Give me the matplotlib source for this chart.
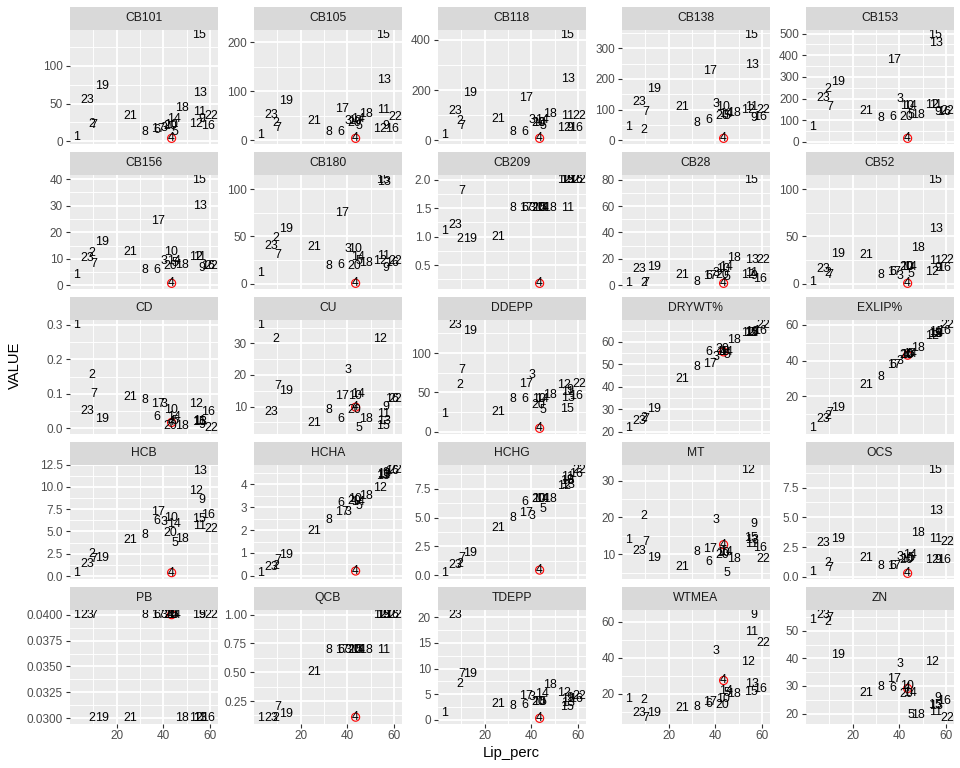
import matplotlib
matplotlib.use("Agg")
import matplotlib.pyplot as plt
from matplotlib.patches import Rectangle
import numpy as np

plt.rcParams['font.family'] = ['Liberation Sans', 'DejaVu Sans']

# ---------------- data ----------------
sites = [str(i) for i in range(1, 24)]
lip_perc = [2.9, 9.3, 40.3, 43.6, 45.0, 37.4, 10.4, 32.1, 56.4, 43.3, 55.7, 54.0,
            55.7, 44.6, 55.4, 59.1, 37.9, 47.9, 13.9, 42.9, 26.1, 60.4, 7.6]
highlight_site = "4"

variables = ["CB101", "CB105", "CB118", "CB138", "CB153",
             "CB156", "CB180", "CB209", "CB28", "CB52",
             "CD", "CU", "DDEPP", "DRYWT%", "EXLIP%",
             "HCB", "HCHA", "HCHG", "MT", "OCS",
             "PB", "QCB", "TDEPP", "WTMEA", "ZN"]

cb101 = [6, 23, 18, 4, 12, 15, 21, 12, 30, 22, 39, 23, 64, 29, 141, 20, 16, 44, 73, 20, 33, 34, 55]
cb105 = [10, 35, 39, 4, 30, 16, 24, 16, 29, 39, 61, 22, 122, 43, 215, 22, 63, 53, 80, 35, 39, 47, 51]
cb118 = [20, 78, 82, 8, 57, 33, 57, 33, 49, 69, 98, 49, 245, 82, 420, 49, 167, 106, 188, 69, 86, 98, 118]
cb138 = [43, 33, 119, 7, 80, 67, 92, 56, 72, 108, 108, 100, 245, 86, 344, 75, 225, 88, 168, 78, 108, 100, 125]
cb153 = [70, 245, 198, 16, 124, 116, 159, 109, 136, 164, 170, 170, 458, 164, 495, 136, 380, 124, 276, 116, 144, 144, 203]
cb156 = [3.8, 12.1, 9.1, 0.8, 8.3, 6.0, 8.0, 6.0, 6.4, 12.5, 10.6, 10.6, 30.0, 9.1, 39.8, 7.2, 24.2, 7.6, 16.3, 7.2, 12.5, 7.2, 10.2]
cb180 = [11, 48, 37, 0.5, 24, 20, 30, 19, 17, 37, 29, 24, 108, 28, 110, 22, 75, 22, 58, 19, 39, 24, 40]
cb209 = [1.1, 0.95, 1.5, 0.18, 1.5, 1.5, 1.8, 1.5, 2.0, 1.5, 1.5, 2.0, 2.0, 1.5, 2.0, 2.0, 1.5, 1.5, 0.95, 1.5, 1.0, 2.0, 1.2]
cb28 = [1.5, 2.0, 9.0, 1.5, 6.0, 6.9, 2.0, 2.3, 6.9, 12.0, 9.0, 7.6, 19.0, 13.7, 80.0, 4.6, 6.9, 21.0, 14.0, 7.6, 7.6, 19.0, 12.0]
cb52 = [2, 11, 8.5, 0.5, 10, 12.5, 9, 9, 17, 18, 24.5, 12.5, 58, 18, 110, 17, 12.5, 38, 31, 18, 30, 25.5, 16]
cd = [0.30, 0.154, 0.069, 0.017, 0.020, 0.034, 0.100, 0.083, 0.011, 0.054, 0.020, 0.069, 0.018,
      0.034, 0.017, 0.046, 0.069, 0.006, 0.026, 0.006, 0.091, 0.000, 0.051]
cu = [35.9, 31.3, 21.7, 9.8, 3.1, 6.0, 16.6, 8.8, 9.8, 13.2, 7.6, 31.3, 5.5, 14.0, 3.8, 12.4, 13.2, 6.0, 15.0, 9.0, 4.9, 12.4, 8.2]
ddepp = [22, 60, 72, 4.4, 28, 42, 78, 42, 53, 42, 50, 60, 42.6, 42, 29, 45, 61, 46.5, 128, 33.5, 25, 61, 136]
drywt = [21.5, 26.3, 53.3, 55.5, 54.0, 55.5, 25.5, 48.8, 63.8, 55.5, 64.0, 64.0, 64.5, 55.5, 64.0, 65.0, 50.3, 61.0, 29.9, 57.0, 43.6, 67.6, 24.8]
exlip = [2.2, 8.9, 39.8, 43.0, 43.5, 37.5, 10.6, 31.1, 55.0, 43.2, 56.0, 53.8, 55.0, 43.8, 55.0, 56.3, 37.3, 47.0, 13.4, 43.2, 26.1, 60.0, 7.3]
hcb = [0.3, 2.5, 6.1, 0.38, 3.7, 6.2, 1.9, 4.6, 8.5, 6.5, 5.6, 9.5, 11.8, 5.8, 6.4, 6.85, 7.2, 4.2, 2.0, 4.8, 4.0, 5.3, 1.4]
hcha = [0.11, 0.44, 2.78, 0.21, 3.05, 3.19, 0.69, 2.46, 4.5, 3.36, 4.4, 3.84, 4.45, 3.22, 4.38, 4.57, 2.78, 3.47, 0.93, 3.26, 1.97, 4.64, 0.40]
hchg = [0.15, 0.93, 5.14, 0.43, 5.77, 6.35, 1.5, 4.97, 8.3, 6.6, 8.5, 7.74, 7.8, 6.6, 8.2, 8.8, 5.42, 6.6, 1.94, 6.6, 4.1, 9.16, 0.85]
mt = [14.0, 20.3, 19.4, 12.6, 4.8, 7.8, 13.4, 10.5, 18.3, 10.2, 12.7, 33.0, 13.8, 10.6, 14.5, 11.7, 11.3, 8.8, 9.1, 9.7, 6.6, 8.8, 10.9]
ocs = [0.44, 1.2, 1.7, 0.3, 1.6, 0.93, 0.73, 0.93, 1.45, 1.5, 3.2, 1.45, 5.55, 1.8, 9.0, 1.45, 0.93, 3.65, 3.15, 1.45, 1.6, 2.9, 2.83]
pb = [0.04, 0.03, 0.04, 0.04, 0.04, 0.04, 0.04, 0.04, 0.04, 0.04, 0.03, 0.03, 0.03, 0.04, 0.04, 0.03, 0.04, 0.03, 0.03, 0.04, 0.03, 0.04, 0.04]
qcb = [0.1, 0.1, 0.69, 0.11, 0.69, 0.69, 0.2, 0.69, 1.0, 0.69, 0.69, 1.0, 1.0, 0.69, 1.0, 1.0, 0.69, 0.69, 0.14, 0.69, 0.5, 1.0, 0.1]
tdepp = [1.4, 6.9, 4.4, 0.3, 3.5, 2.9, 8.9, 2.7, 4.2, 3.5, 4.0, 5.2, 3.3, 5.0, 2.5, 4.1, 4.7, 6.7, 8.9, 3.5, 3.1, 4.7, 20.5]
wtmea = [17.1, 16.3, 43.8, 27.4, 20.5, 14.4, 6.4, 12.9, 63.9, 17.1, 54.5, 37.6, 25.5, 21.5, 20.8, 22.7, 15.2, 20.0, 9.6, 13.9, 12.0, 48.1, 9.6]
zn = [53.7, 53.1, 37.9, 29.1, 19.4, 29.1, 54.7, 29.5, 25.5, 29.9, 20.7, 38.8, 22.9, 27.6, 23.2, 24.4, 32.7, 19.4, 41.2, 27.2, 27.6, 18.3, 55.8]

values = [cb101, cb105, cb118, cb138, cb153, cb156, cb180, cb209, cb28, cb52,
          cd, cu, ddepp, drywt, exlip, hcb, hcha, hchg, mt, ocs, pb, qcb, tdepp, wtmea, zn]

y_breaks = [[0, 50, 100], [0, 100, 200], [0, 200, 400], [0, 100, 200, 300], [0, 100, 200, 300, 400, 500],
            [0, 10, 20, 30, 40], [0, 50, 100], [0.5, 1.0, 1.5, 2.0], [0, 20, 40, 60, 80], [0, 50, 100],
            [0.0, 0.1, 0.2, 0.3], [10, 20, 30], [0, 50, 100], [20, 30, 40, 50, 60], [20, 40, 60],
            [0, 2.5, 5.0, 7.5, 10.0, 12.5], [0, 1, 2, 3, 4], [0, 2.5, 5.0, 7.5], [10, 20, 30], [0, 2.5, 5.0, 7.5],
            [0.03, 0.0325, 0.035, 0.0375, 0.04], [0.25, 0.5, 0.75, 1.0], [0, 5, 10, 15, 20], [20, 40, 60], [20, 30, 40, 50]]
x_breaks = [20, 40, 60]

# ---------------- style ----------------
W, H = 960, 768
PANEL_BG = "#EBEBEB"
STRIP_BG = "#D9D9D9"
TICK_COL = "#4D4D4D"


def fmt_labels(brks):
    for d in range(0, 6):
        labs = [f"{b:.{d}f}" for b in brks]
        if all(abs(float(l) - b) < 1e-9 for l, b in zip(labs, brks)):
            return labs
    return [str(b) for b in brks]


def expand(vals):
    lo, hi = min(vals), max(vals)
    r = hi - lo if hi > lo else 1.0
    return lo - 0.05 * r, hi + 0.05 * r


def minors(brks, lo, hi):
    step = brks[1] - brks[0]
    cand = [b - step / 2 for b in brks] + [brks[-1] + step / 2]
    return [m for m in cand if lo <= m <= hi]


fig = plt.figure(figsize=(W / 100, H / 100), dpi=100)
xlo, xhi = expand(lip_perc)
xminor = minors(x_breaks, xlo, xhi)

for i, (var, vals, brks) in enumerate(zip(variables, values, y_breaks)):
    r, c = divmod(i, 5)
    left = 70 + 184 * c
    pw = 147.5
    ptop = 29.5 + 145 * r
    ph = 114.0
    stop = 7 + 145 * r
    sh = 22.5

    ax = fig.add_axes([left / W, 1 - (ptop + ph) / H, pw / W, ph / H])
    ax.set_facecolor(PANEL_BG)
    for s in ax.spines.values():
        s.set_visible(False)
    ylo, yhi = expand(vals)
    ax.set_xlim(xlo, xhi)
    ax.set_ylim(ylo, yhi)

    # grid
    for m in minors(brks, ylo, yhi):
        ax.axhline(m, color="white", lw=0.65, zorder=0)
    for b in brks:
        ax.axhline(b, color="white", lw=1.3, zorder=0)
    for m in xminor:
        ax.axvline(m, color="white", lw=0.65, zorder=0)
    for b in x_breaks:
        ax.axvline(b, color="white", lw=1.3, zorder=0)

    # highlighted point
    hi_idx = sites.index(highlight_site)
    ax.scatter([lip_perc[hi_idx]], [vals[hi_idx]], s=34, facecolors="none",
               edgecolors="#FF0000", linewidths=0.8, zorder=2)
    # labels
    for s_lab, xv, yv in zip(sites, lip_perc, vals):
        ax.text(xv, yv, s_lab, ha="center", va="center", fontsize=8.9,
                color="black", zorder=3, clip_on=True)

    ax.set_yticks(brks)
    ax.set_yticklabels(fmt_labels(brks))
    ax.tick_params(axis="y", length=3.0, width=0.8, color="#333333",
                   labelsize=8.5, labelcolor=TICK_COL, pad=2)
    ax.set_xticks(x_breaks)
    if r == 4:
        ax.set_xticklabels([str(b) for b in x_breaks])
        ax.tick_params(axis="x", length=3.0, width=0.8, color="#333333",
                       labelsize=8.5, labelcolor=TICK_COL, pad=2)
    else:
        ax.tick_params(axis="x", length=0, labelbottom=False)

    # strip
    sax = fig.add_axes([left / W, 1 - (stop + sh) / H, pw / W, sh / H])
    sax.set_xlim(0, 1)
    sax.set_ylim(0, 1)
    sax.add_patch(Rectangle((0, 0), 1, 1, facecolor=STRIP_BG, edgecolor="none"))
    sax.axis("off")
    sax.text(0.5, 0.5, var, ha="center", va="center", fontsize=8.7, color="#1A1A1A")

fig.text(15 / W, 1 - 365 / H, "VALUE", rotation=90, ha="center", va="center",
         fontsize=10.6, color="black")
fig.text(511 / W, 1 - 753 / H, "Lip_perc", ha="center", va="center",
         fontsize=10.6, color="black")

fig.savefig("out.png", dpi=100, facecolor="white")
